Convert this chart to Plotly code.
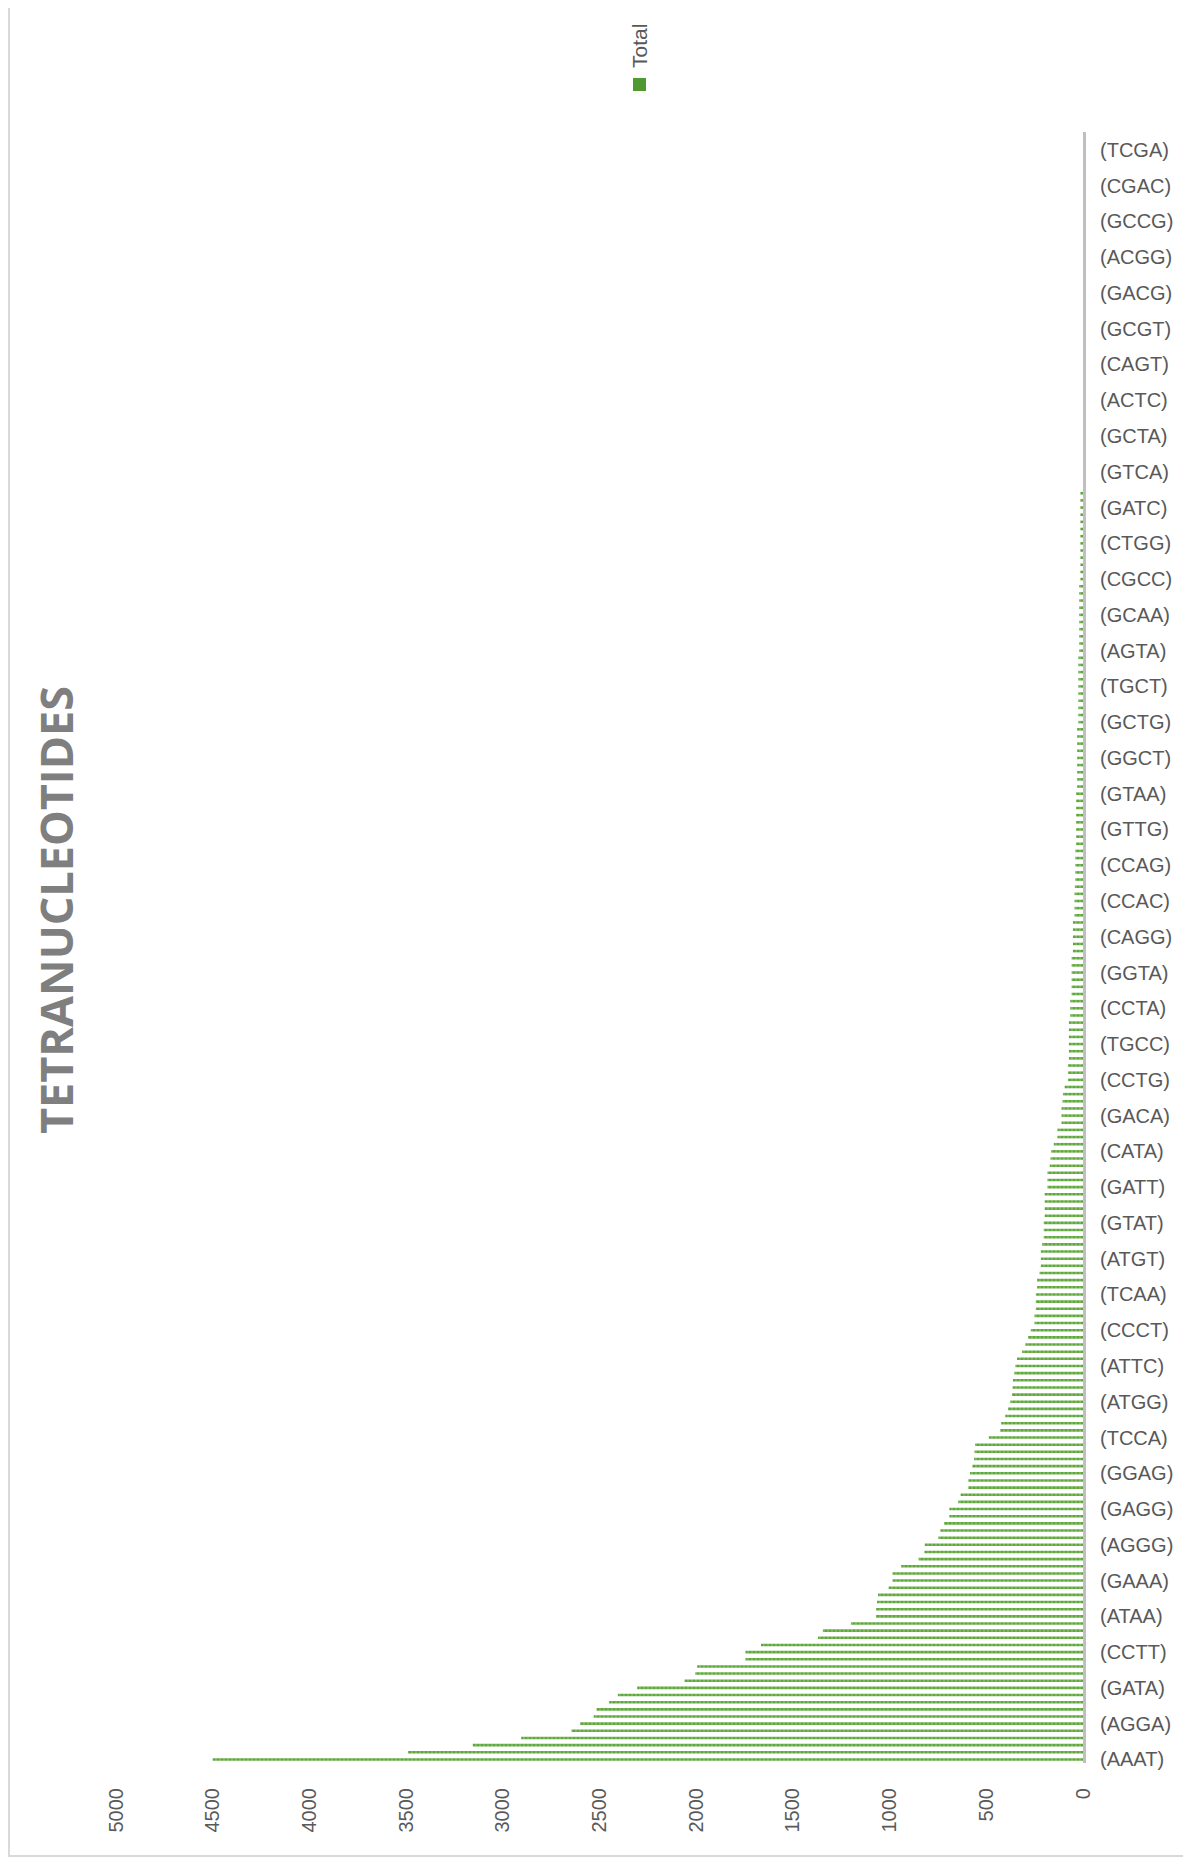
import plotly.graph_objects as go

# counts for each tetranucleotide motif, sorted descending (bottom bar first)
counts = [
    4500, 3490, 3155, 2905, 2645, 2600, 2530, 2515, 2450, 2405,
    2305, 2060, 2005, 1995, 1745, 1745, 1665, 1370, 1345, 1200,
    1070, 1070, 1065, 1060, 1005, 985, 985, 940, 850, 820,
    818, 748, 738, 718, 691, 691, 645, 633, 593, 593,
    584, 572, 563, 561, 558, 487, 428, 423, 402, 388,
    376, 367, 364, 362, 355, 350, 341, 315, 298, 284,
    270, 251, 251, 244, 244, 244, 237, 237, 225, 218,
    218, 218, 211, 203, 203, 203, 198, 198, 198, 198,
    184, 184, 184, 172, 168, 165, 151, 132, 132, 111,
    111, 111, 106, 104, 95, 78, 78, 78, 73, 73,
    73, 73, 73, 73, 66, 66, 66, 59, 59, 59,
    59, 59, 59, 52, 52, 52, 52, 52, 44, 44,
    44, 44, 42, 40, 40, 40, 40, 40, 36, 36,
    36, 36, 36, 36, 36, 36, 30, 30, 30, 30,
    30, 30, 30, 30, 30, 24, 24, 24, 24, 24,
    24, 24, 24, 24, 24, 20, 20, 20, 20, 20,
    20, 20, 20, 20, 20, 14, 14, 14, 14, 14,
    14, 14, 14, 14, 14, 14, 14, 14, 0, 0,
    0, 0, 0, 0, 0, 0, 0, 0, 0, 0,
    0, 0, 0, 0, 0, 0, 0, 0, 0, 0,
    0, 0, 0, 0, 0, 0, 0, 0, 0, 0,
    0, 0, 0, 0, 0, 0, 0, 0, 0, 0,
    0, 0, 0, 0, 0, 0, 0, 0,
]

# labels Excel printed (every 5th category)
shown_labels = [
    "(AAAT)", "(AGGA)", "(GATA)", "(CCTT)", "(ATAA)", "(GAAA)", "(AGGG)", "(GAGG)",
    "(GGAG)", "(TCCA)", "(ATGG)", "(ATTC)", "(CCCT)", "(TCAA)", "(ATGT)", "(GTAT)",
    "(GATT)", "(CATA)", "(GACA)", "(CCTG)", "(TGCC)", "(CCTA)", "(GGTA)", "(CAGG)",
    "(CCAC)", "(CCAG)", "(GTTG)", "(GTAA)", "(GGCT)", "(GCTG)", "(TGCT)", "(AGTA)",
    "(GCAA)", "(CGCC)", "(CTGG)", "(GATC)", "(GTCA)", "(GCTA)", "(ACTC)", "(CAGT)",
    "(GCGT)", "(GACG)", "(ACGG)", "(GCCG)", "(CGAC)", "(TCGA)",
]
value_ticks = [0, 500, 1000, 1500, 2000, 2500, 3000, 3500, 4000, 4500, 5000]

# page has an 8px body margin, so the figure is drawn 8px smaller
OFF = 8
W, H = 1191 - OFF, 1859 - OFF
ML, MR, MT, MB = 108, 108, 124, 96
PW, PH = W - ML - MR, H - MT - MB


def px_x(x):
    return (x - OFF - ML) / PW


def px_y(y):
    return (H - MB - (y - OFF)) / PH


green = "#4f9a30"
grey_txt = "#595959"

fig = go.Figure()
fig.add_trace(go.Bar(
    x=counts, y=list(range(len(counts))), orientation="h", width=0.36,
    marker=dict(color="#80bd5e", line_width=0,
                pattern=dict(shape="|", fgcolor="#3f8f22", size=4, solidity=0.6)),
    name="Total", showlegend=False,
))

fig.update_layout(
    width=W, height=H, autosize=False,
    margin=dict(l=ML, r=MR, t=MT, b=MB),
    plot_bgcolor="white", paper_bgcolor="white",
    font=dict(family="Liberation Sans", size=20, color=grey_txt),
)
fig.update_xaxes(range=[5000, 0], tickvals=value_ticks, tickangle=-90,
                 showgrid=False, zeroline=False, showline=False, ticks="",
                 ticklabelstandoff=20, tickfont=dict(size=20, color=grey_txt))
fig.update_yaxes(range=[-0.5, len(counts) - 0.5], side="right",
                 tickvals=[i * 5 for i in range(len(shown_labels))], ticktext=shown_labels,
                 showgrid=False, zeroline=False, showline=True, linecolor="#bfbfbf", linewidth=3,
                 ticks="", ticklabelstandoff=10, tickfont=dict(size=20, color=grey_txt))

# title, rotated like the source
fig.add_annotation(text="<b>TETRANUCLEOTIDES</b>", textangle=-90, showarrow=False,
                   xref="paper", yref="paper", x=px_x(56), y=px_y(910),
                   xanchor="center", yanchor="middle",
                   font=dict(family="Open Sans", size=45, color="#7f7f7f"))

# rotated legend: swatch + text
fig.add_annotation(text="Total", textangle=-90, showarrow=False,
                   xref="paper", yref="paper", x=px_x(639), y=px_y(46),
                   xanchor="center", yanchor="middle",
                   font=dict(size=21, color=grey_txt))
fig.add_shape(type="rect", xref="paper", yref="paper",
              x0=px_x(633), x1=px_x(646), y0=px_y(91), y1=px_y(78),
              fillcolor=green, line_width=0)

# chart border
fig.add_shape(type="rect", xref="paper", yref="paper",
              x0=px_x(OFF + 1), x1=px_x(1186), y0=px_y(1856), y1=px_y(-5),
              line=dict(color="#d9d9d9", width=2), fillcolor="rgba(0,0,0,0)", layer="below")

fig.write_html("out.html")
